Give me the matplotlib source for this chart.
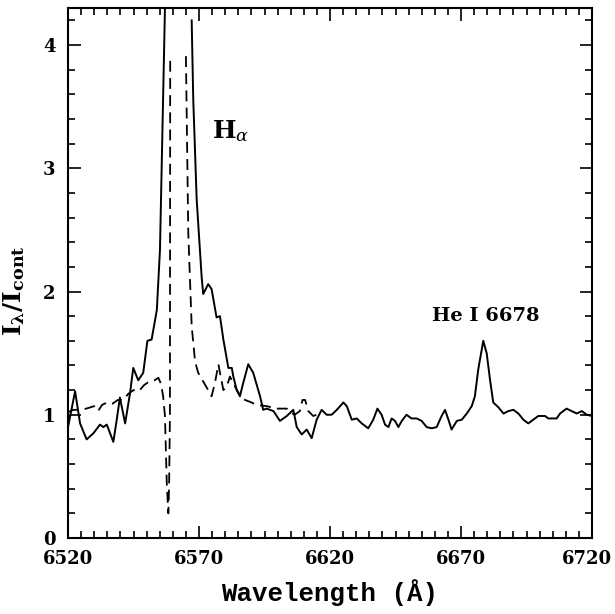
import numpy as np
import matplotlib
matplotlib.use("Agg")
import matplotlib.pyplot as plt
import matplotlib.transforms as mtransforms
from matplotlib.ticker import MultipleLocator

plt.rcParams["mathtext.fontset"] = "dejavuserif"

# Solid spectrum (wavelength in Angstrom, normalised intensity)
solid_wave = [6520.0, 6522.7, 6524.6, 6527.1, 6529.7, 6532.2, 6533.5, 6534.8, 6537.3,
              6538.6, 6539.8, 6541.8, 6543.7, 6544.9, 6546.8, 6548.7, 6550.3, 6551.9,
              6553.9, 6555.1, 6557.0, np.nan, 6567.2, 6567.8, 6569.1, 6571.0, 6571.6,
              6573.5, 6574.8, 6576.7, 6578.0, 6579.3, 6581.2, 6582.5, 6583.1, 6584.4,
              6585.6, 6586.9, 6588.8, 6590.7, 6593.3, 6594.5, 6595.8, 6598.4, 6600.9,
              6603.5, 6606.0, 6607.3, 6609.2, 6611.1, 6613.0, 6614.9, 6616.8, 6618.7,
              6620.6, 6622.6, 6625.1, 6626.4, 6628.3, 6630.2, 6632.1, 6634.6, 6636.5,
              6638.1, 6639.7, 6641.0, 6642.3, 6643.5, 6644.8, 6646.1, 6647.4, 6649.2,
              6651.1, 6653.1, 6655.0, 6656.9, 6658.8, 6660.7, 6662.6, 6663.9, 6665.2,
              6666.4, 6668.4, 6670.3, 6672.2, 6674.1, 6675.3, 6676.6, 6678.5, 6679.8,
              6681.1, 6682.3, 6684.3, 6686.2, 6688.1, 6690.0, 6691.9, 6693.8, 6695.7,
              6697.6, 6699.5, 6702.1, 6703.3, 6705.2, 6706.5, 6707.8, 6710.3, 6712.2,
              6714.2, 6716.1, 6718.0, 6720.0]
solid_flux = [0.90, 1.19, 0.93, 0.80, 0.85, 0.92, 0.90, 0.92, 0.78,
              0.96, 1.14, 0.93, 1.18, 1.38, 1.28, 1.34, 1.60, 1.61,
              1.85, 2.34, 4.30, np.nan, 4.20, 3.56, 2.75, 2.12, 1.98,
              2.06, 2.02, 1.79, 1.80, 1.61, 1.38, 1.38, 1.31, 1.20,
              1.15, 1.26, 1.41, 1.34, 1.15, 1.04, 1.05, 1.03, 0.95,
              0.99, 1.04, 0.90, 0.84, 0.88, 0.81, 0.96, 1.04, 1.00,
              1.00, 1.04, 1.10, 1.07, 0.96, 0.97, 0.93, 0.89, 0.96,
              1.05, 1.00, 0.92, 0.90, 0.97, 0.95, 0.90, 0.95, 1.00,
              0.97, 0.97, 0.95, 0.90, 0.89, 0.90, 0.99, 1.04, 0.96,
              0.88, 0.95, 0.96, 1.01, 1.07, 1.15, 1.37, 1.60, 1.50,
              1.28, 1.10, 1.06, 1.01, 1.03, 1.04, 1.01, 0.96, 0.93,
              0.96, 0.99, 0.99, 0.97, 0.97, 0.97, 1.01, 1.05, 1.03,
              1.01, 1.03, 1.00, 0.99]

# Dashed spectrum
dashed_wave = [6520.0, 6522.0, 6524.0, 6527.0, 6530.0, 6531.5, 6533.0, 6535.0, 6537.0,
               6539.0, 6541.0, 6543.0, 6545.0, 6547.0, 6549.0, 6551.0, 6553.0, 6554.5,
               6555.5, 6556.3, 6557.0, 6557.7, 6558.3, 6558.6, 6558.9, 6559.0, np.nan,
               6565.0, 6565.9, 6566.6, 6567.2, 6568.5, 6569.7, 6571.6, 6573.5, 6574.8,
               6576.1, 6577.4, 6578.0, 6579.3, 6580.6, 6581.8, 6583.2, 6585.0, 6586.3,
               6587.6, 6590.0, 6592.0, 6595.8, 6599.6, 6603.5, 6604.7, 6606.5, 6608.5,
               6609.5, 6610.5, 6611.7, 6613.6, 6614.9]
dashed_flux = [1.02, 1.04, 1.04, 1.05, 1.07, 1.03, 1.08, 1.10, 1.09,
               1.12, 1.12, 1.17, 1.20, 1.19, 1.24, 1.27, 1.28, 1.30,
               1.25, 1.15, 0.99, 0.44, 0.20, 0.45, 1.00, 3.88, np.nan,
               3.91, 2.48, 2.07, 1.72, 1.43, 1.34, 1.27, 1.20, 1.15,
               1.26, 1.41, 1.34, 1.20, 1.23, 1.31, 1.25, 1.18, 1.14,
               1.12, 1.10, 1.08, 1.07, 1.05, 1.05, 1.02, 1.00, 1.03,
               1.12, 1.12, 1.03, 0.99, 1.00]

x_ticks = [6520, 6570, 6620, 6670, 6720]
y_ticks = [0, 1, 2, 3, 4]

fig = plt.figure(figsize=(6.15, 6.14), dpi=100)
ax = fig.add_axes([0.1106, 0.1238, 0.852, 0.863])

ax.plot(solid_wave, solid_flux, color="black", lw=1.4)
ax.plot(dashed_wave, dashed_flux, color="black", lw=1.3, dashes=(6, 3.5))

ax.set_xlim(6520, 6720)
ax.set_ylim(0, 4.3)
ax.set_xticks(x_ticks)
ax.set_yticks(y_ticks)
ax.xaxis.set_minor_locator(MultipleLocator(5))
ax.yaxis.set_minor_locator(MultipleLocator(0.2))
ax.tick_params(which="both", direction="in", top=True, right=True, width=1.2)
ax.tick_params(which="major", length=9)
ax.tick_params(which="minor", length=5)
ax.tick_params(axis="x", which="major", pad=9)
ax.tick_params(axis="y", which="major", pad=9)
for s in ax.spines.values():
    s.set_linewidth(1.5)

for lab in ax.get_xticklabels() + ax.get_yticklabels():
    lab.set_family("DejaVu Serif")
    lab.set_fontweight("bold")
    lab.set_fontsize(13)

# nudge the last x label so it stays inside the figure
last = ax.get_xticklabels()[-1]
last.set_transform(last.get_transform() +
                   mtransforms.ScaledTranslation(-5 / 100, 0, fig.dpi_scale_trans))

ax.set_xlabel("Wavelength (Å)", family="Liberation Mono", fontweight="bold",
              fontsize=18.5, labelpad=8)
ax.set_ylabel(r"$\mathbf{I_{\lambda}/I_{cont}}$", fontsize=18)
ax.yaxis.set_label_coords(-0.078, 0.466)

ax.text(6582, 3.3, r"$\mathbf{H}_{\alpha}$", fontsize=18, ha="center", va="center")
ax.text(6679.5, 1.80, "He I 6678", family="DejaVu Serif", fontweight="bold",
        fontsize=14, ha="center", va="center")

fig.savefig("out.png", dpi=100)
